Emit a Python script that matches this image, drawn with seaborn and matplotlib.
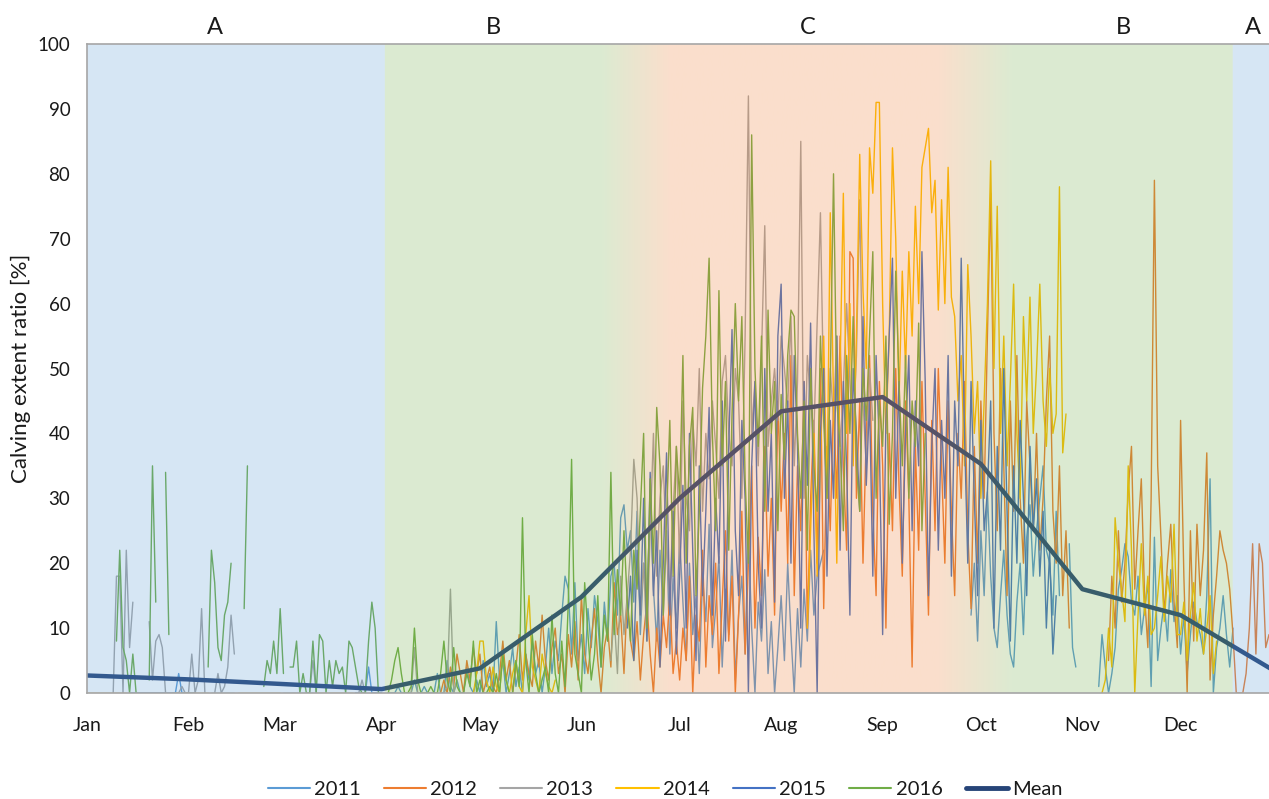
import numpy as np
import pandas as pd
import matplotlib
matplotlib.use("Agg")
import matplotlib.pyplot as plt
from matplotlib.lines import Line2D
import seaborn as sns

# ---------------- data (day of year, value %) ----------------
years = ["2011", "2012", "2013", "2014", "2015", "2016"]
colors = ["#5B9BD5", "#ED7D31", "#A5A5A5", "#FFC000", "#4472C4", "#70AD47"]

# each series: list of (start_day, daily values) segments
seg_2011 = [
    (13, [0, 0, 0, 0, 0, 0, 0, 0, 0, 0, 0, 0, 0, 0, 0, 3, 0, 0, 0, 0, 0]),
    (38, [0, 0, 0, 0, 0, 0, 0, 0]),
    (60, [0, 0, 0, 0, 0, 0, 0, 0, 0, 0]),
    (82, [0, 0, 0, 0, 4, 0, 0, 0, 0]),
    (92, [0, 0, 0, 1, 0, 0, 0, 0, 2, 0, 0, 1, 0, 0, 0, 3, 0, 0, 5, 1, 0, 2, 0, 0, 4, 1, 0, 2, 0,
          5, 1, 3, 0, 11, 2, 5, 0, 3, 7, 1, 4, 0, 6, 2, 8, 3, 5, 0, 4, 10, 3, 8, 5, 12, 18, 16, 6,
          17, 5, 9, 3, 13, 7, 15, 11, 4, 14, 8, 18, 20, 12, 27, 29, 22, 25, 14, 28, 9, 20, 13, 30,
          16, 8, 22, 12, 25, 6, 18, 10, 24, 14, 5, 20, 9, 15, 3, 18, 11, 26, 7, 13, 21, 4, 16, 9,
          22, 2, 12, 18, 6, 25, 10, 0, 14, 8, 19, 3, 11, 0, 7, 15, 5, 20, 9, 0, 13, 4, 16, 8, 22,
          12, 18, 20, 22]),
    (270, [12, 20, 8, 25, 15, 31, 18, 10, 7, 15, 22, 12, 6, 4, 14, 20, 9, 24, 29, 18, 25, 30,
           35, 22, 20, 12, 28, 15]),
    (300, [23, 7, 4]),
    (309, [1, 9, 4, 0, 3, 7, 16, 19, 23, 21, 14, 12, 18, 9, 13, 17, 1, 24, 5, 10, 14, 8, 19,
           11, 15, 6, 12, 3, 9, 14, 11, 9, 6, 15, 33, 0, 7, 10, 15, 9, 4, 10]),
]

seg_2012 = [
    (108, [0, 2, 0, 4, 1, 6, 3, 0, 5, 2, 7, 3, 6, 0, 2, 4, 1, 0, 3, 8, 2, 5, 0, 4, 9, 2, 6, 3,
           1, 8, 4, 12, 5, 2, 7, 10, 3, 6, 0, 9, 4, 11, 2, 15, 6, 3, 8, 13, 5, 0, 7, 10, 4, 17,
           9, 12, 3, 15, 8, 5, 11, 2, 9, 14, 6, 0, 10, 4, 12, 7, 15, 3, 8,
           2, 10, 5, 18, 0, 12, 8, 22, 4, 15, 9, 20, 3, 14, 25, 8, 18, 0, 12, 28, 6, 20, 35, 10,
           24, 15, 38, 18, 30, 12, 45, 28, 40, 20, 52, 15, 35, 25, 48, 10, 30, 42, 20, 50, 13,
           38, 25, 45, 30, 55, 35, 22, 68, 67, 30, 45, 20, 40, 52, 28, 15, 48, 35, 10, 40, 25,
           50, 32, 18, 45, 30, 4, 38, 22, 48, 30, 12, 42, 25, 50, 35, 20, 45, 28, 15, 40, 30,
           48, 25, 13, 38, 20, 45, 30, 55, 77, 40, 25, 50, 35, 15, 45, 28, 52, 30, 20, 45, 35,
           25, 40, 22, 30, 45, 55, 28, 20, 35, 15, 25, 10]),
    (312, [5, 18, 10, 25, 14, 20, 31, 38, 16, 25, 33, 15, 7, 30, 79, 35, 24, 12, 20, 26, 14,
           7, 42, 18, 0, 25, 8, 26, 15, 22, 37, 2, 12, 18, 25, 22, 20, 16, 9, 0, 0, 0, 3, 10,
           23, 6, 23, 20, 7, 9]),
]

seg_2013 = [
    (8, [0, 18, 18, 0, 22, 7, 14]),
    (19, [11, 2, 8, 9, 7, 0]),
    (27, [0, 0, 1, 0, 0, 6, 0, 2, 13, 0]),
    (39, [0, 3, 0, 1, 4, 12, 6]),
    (68, [0, 5, 0]),
    (83, [0, 2, 0]),
    (99, [0, 7, 0]),
    (109, [0, 1, 16, 0, 2]),
    (160, [5, 12, 3, 18, 9, 15, 22, 36, 30, 12, 20, 8, 25, 40, 18, 30, 35, 22, 15, 28, 38, 20,
           45, 30, 25, 42, 35, 50, 28, 40, 33, 45, 38, 30, 48, 52, 40, 35, 50, 45, 30, 55, 92,
           40, 48, 35, 52, 72, 38, 45, 50, 42, 55, 50, 44, 58, 35, 48, 85, 30, 52, 45, 40, 57,
           74, 45, 30, 50, 42, 55, 38, 47, 60, 48, 40, 52, 76, 45, 35, 50, 42]),
]

seg_2014 = [
    (0, [0, 0, 0, 0, 0, 0, 0, 0, 0, 0, 0, 0, 0]),
    (26, [0, 0, 0, 0, 0, 0, 0, 0, 0, 0, 0, 0]),
    (46, [0, 0, 0, 0, 0, 0, 0, 0, 0, 0, 0, 0, 0, 0]),
    (70, [0, 0, 0, 0, 0, 0, 0, 0, 0, 0, 0, 0]),
    (118, [0, 3, 8, 8, 2, 0, 4, 1, 0, 6, 2, 0, 3, 5, 1, 0, 9, 15, 4, 2, 0, 6, 3, 1, 0, 2]),
    (220, [10, 25, 40, 18, 35, 55, 30, 74, 45, 20, 50, 77, 40, 60, 35, 55, 83, 62, 50, 84, 77,
           91, 91, 60, 40, 55, 84, 70, 45, 65, 50, 68, 55, 75, 60, 81, 84, 87, 74, 79, 59, 76,
           60, 81, 61, 58, 45, 52, 35, 66, 55, 40, 48, 30, 45, 60, 82, 50, 75, 40, 55, 35, 48,
           63, 40, 30, 58, 45, 61, 40, 50, 63, 45, 38, 50, 40, 43, 78, 37, 43]),
    (310, [0, 2, 10, 4, 27, 20, 16, 11, 35, 22, 0, 12, 23, 12, 18, 9, 10, 15, 21, 11, 18, 14,
           26, 9, 9, 14, 5, 12, 17, 8, 13, 6, 10, 15, 3, 8]),
]

seg_2015 = [
    (165, [10, 18, 5, 22, 12, 30, 8, 34, 15, 25, 4, 20, 37, 12, 28, 6, 18, 32, 10, 40, 22, 5,
           35, 15, 28, 44, 12, 30, 20, 45, 8, 38, 56, 25, 15, 42, 30, 0, 35, 48, 20, 10, 50, 28,
           40, 14, 55, 63, 30, 45, 20, 52, 38, 10, 48, 32, 57, 25, 0, 40, 50, 18, 42, 30, 55,
           22, 48, 35, 12, 50, 40, 28, 58, 32, 45, 18, 52, 38, 9, 42, 55, 67, 30, 48, 20, 40,
           52, 25, 45, 35, 68, 48, 15, 38, 50, 22, 42, 30, 52, 18, 45, 35, 67, 40, 20, 48, 30,
           15, 42, 25, 31, 45, 10, 38, 22, 50, 28, 8, 35, 20, 42, 30, 15, 38, 25, 33, 18, 28,
           10, 22, 6, 15]),
]

seg_2016 = [
    (9, [8, 22, 7, 5, 0, 6, 0]),
    (19, [2, 35, 14]),
    (24, [34, 9]),
    (37, [4, 22, 17, 7, 5, 12, 14, 20]),
    (48, [13, 35]),
    (54, [1, 5, 3, 8, 3, 13, 3]),
    (62, [4, 4, 8, 0, 3, 0, 0, 8, 0, 9, 8, 0, 5, 1, 5, 3, 4, 0, 8, 7, 4, 1, 0, 0, 8, 14, 10, 0]),
    (92, [0, 2, 5, 7, 3, 0, 0, 1, 10, 2, 0, 0, 0, 1, 0, 0, 3, 8, 2, 0, 7, 1, 0, 0, 3, 1, 8, 0,
          2, 0,
          0, 1, 0, 3, 0, 6, 2, 0, 0, 5, 1, 27, 5, 0, 9, 3, 0, 2, 4, 0, 12, 3, 0, 8, 1, 14, 36,
          6, 3, 0, 17, 9, 2, 6, 15, 4, 12, 8, 34, 9, 19, 12, 25, 14, 8, 22, 16, 28, 40, 10, 33,
          20, 44, 35, 12, 27, 42, 18, 38,
          30, 52, 20, 38, 44, 15, 28, 47, 55, 67, 40, 25, 62, 35, 48, 22, 43, 60, 45, 58, 33,
          20, 86, 50, 38, 55, 28, 59, 40, 48, 25, 46, 36, 52, 59, 58, 40, 30, 45, 22, 50, 35,
          28, 55, 42, 30, 48, 80, 45, 38, 25, 52, 40, 58, 35, 28, 50, 42, 55, 68, 30, 45, 38,
          55, 26, 40, 65, 48, 35, 52, 30, 45, 38, 57, 25, 40]),
]

segments = [seg_2011, seg_2012, seg_2013, seg_2014, seg_2015, seg_2016]

mean_days = [0, 31, 59, 90, 120, 151, 181, 212, 243, 273, 304, 334, 365]
mean_vals = [2.7, 2.1, 1.4, 0.6, 3.8, 14.8, 30.0, 43.4, 45.6, 35.3, 16.0, 12.0, 2.7]

month_days = [0, 31, 59, 90, 120, 151, 181, 212, 243, 273, 304, 334]
month_labels = ["Jan", "Feb", "Mar", "Apr", "May", "Jun", "Jul", "Aug", "Sep", "Oct", "Nov", "Dec"]

zone_labels = ["A", "B", "C", "B", "A"]
zone_label_days = [39, 124, 220, 316.6, 356]

# ---------------- build long table ----------------
rows = []
for yr, segs in zip(years, segments):
    for i, (start, vals) in enumerate(segs):
        for k, v in enumerate(vals):
            rows.append((start + k, v, yr, f"{yr}-{i}"))
df = pd.DataFrame(rows, columns=["day", "value", "year", "seg"])
mean_df = pd.DataFrame({"day": mean_days, "value": mean_vals})

# ---------------- style ----------------
sns.set_style("white")
plt.rcParams["font.family"] = ["Lato", "DejaVu Sans"]
text_col = "#1A1A1A"
axis_col = "#A6A6A6"

fig = plt.figure(figsize=(12.69, 7.99), dpi=100)
ax = fig.add_axes([87 / 1269, 1 - 693 / 799, (1269 - 87) / 1269, (693 - 44) / 799])

palette = dict(zip(years, colors))
sns.lineplot(data=df, x="day", y="value", hue="year", units="seg", estimator=None,
             palette=palette, linewidth=1.0, legend=False, ax=ax, sort=True, zorder=2)
sns.lineplot(data=mean_df, x="day", y="value", color="#264478", linewidth=3.2,
             ax=ax, zorder=2.2)

XMAX = 361
ax.set_xlim(0, XMAX)
ax.set_ylim(0, 100)

# season overlay (semi-transparent, drawn over the lines)
B = np.array([0x5B, 0x9B, 0xD5]) / 255
G = np.array([0x70, 0xAD, 0x47]) / 255
S = np.array([0xED, 0x7D, 0x31]) / 255
stops_x = [0, 91, 91.01, 157, 178, 260, 283, 350, 350.01, XMAX]
stops_c = [B, B, G, G, S, S, G, G, B, B]
xs = np.linspace(0, XMAX, 1500)
img = np.zeros((1, len(xs), 4))
for ch in range(3):
    img[0, :, ch] = np.interp(xs, stops_x, [c[ch] for c in stops_c])
img[0, :, 3] = 0.25
ax.imshow(img, extent=(0, XMAX, 0, 100), aspect="auto", origin="lower",
          interpolation="bilinear", zorder=3)

# axes styling
for side in ["left", "bottom", "top"]:
    ax.spines[side].set_color(axis_col)
    ax.spines[side].set_linewidth(1.2)
    ax.spines[side].set_zorder(5)
ax.spines["right"].set_visible(False)

ax.set_xticks(month_days)
ax.set_xticklabels(month_labels)
ax.set_yticks(range(0, 101, 10))
ax.tick_params(axis="x", direction="in", length=4, color=axis_col, pad=17,
               labelsize=14, labelcolor=text_col)
ax.tick_params(axis="y", direction="in", length=4, color=axis_col, pad=12,
               labelsize=13.5, labelcolor=text_col)
ax.xaxis.set_zorder(5)
ax.yaxis.set_zorder(5)
ax.set_xlabel("")
ax.set_ylabel("Calving extent ratio [%]", fontsize=16, color=text_col, labelpad=5)

for lab, d in zip(zone_labels, zone_label_days):
    ax.text(d, 102.5, lab, ha="center", va="center", fontsize=17, color=text_col,
            clip_on=False)

handles = [Line2D([0], [0], color=c, lw=1.5) for c in colors]
handles.append(Line2D([0], [0], color="#264478", lw=3.5))
fig.legend(handles, years + ["Mean"], loc="center", bbox_to_anchor=(0.524, 0.0125),
           ncol=7, frameon=False, fontsize=14.5, handlelength=2.1, handletextpad=0.2,
           columnspacing=1.15, labelcolor=text_col)

fig.savefig("out.png", dpi=100)
